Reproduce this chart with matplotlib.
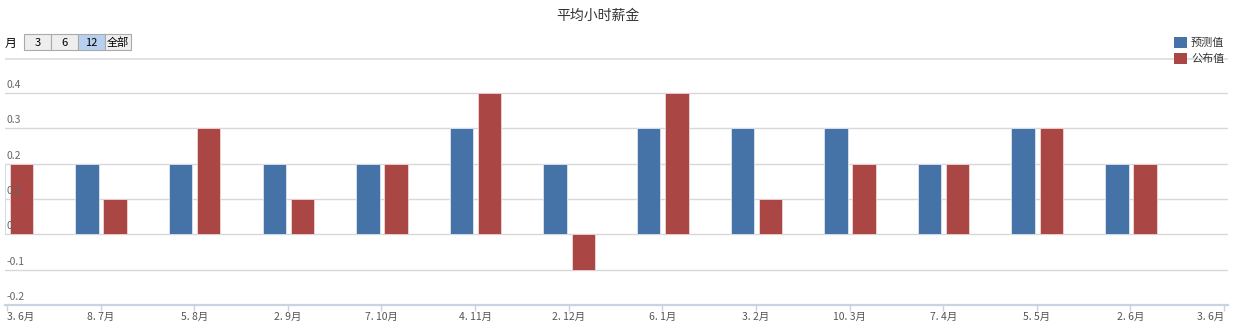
import matplotlib
matplotlib.use("Agg")
import matplotlib.pyplot as plt
from matplotlib.patches import Rectangle
import numpy as np

plt.rcParams['font.family'] = ['Noto Sans CJK SC', 'DejaVu Sans']

# data
dates = ["3. 6月", "8. 7月", "5. 8月", "2. 9月", "7. 10月", "4. 11月", "2. 12月",
         "6. 1月", "3. 2月", "10. 3月", "7. 4月", "5. 5月", "2. 6月", "3. 6月"]
forecast = [0.2, 0.2, 0.2, 0.2, 0.2, 0.3, 0.2, 0.3, 0.3, 0.3, 0.2, 0.3, 0.2]
actual = [0.2, 0.1, 0.3, 0.1, 0.2, 0.4, -0.1, 0.4, 0.1, 0.2, 0.2, 0.3, 0.2]
yticks = [-0.2, -0.1, 0, 0.1, 0.2, 0.3, 0.4, 0.5]
ylabels = ["-0.2", "-0.1", "0", "0.1", "0.2", "0.3", "0.4", ""]

blue = "#4572A7"
red = "#AA4643"
W, H = 1239, 328

fig = plt.figure(figsize=(W / 100, H / 100), dpi=100)
# plot area in pixels: x 5..1228, y 57.5..305
ax = fig.add_axes([5 / W, (H - 305) / H, 1223 / W, 247.5 / H])

px = 1217 / 13.0  # pixels per category
ax.set_xlim(-2 / px, 13 + 4 / px)
ax.set_ylim(-0.2, 0.5)

x = np.arange(len(forecast))
ax.bar(x - 0.145, forecast, width=0.25, color=blue, edgecolor="#dfe6f0", linewidth=0.6, zorder=3)
ax.bar(x + 0.155, actual, width=0.25, color=red, edgecolor="#eed8d8", linewidth=0.6, zorder=3)

for s in ax.spines.values():
    s.set_visible(False)
ax.set_yticks([])
for yv, lab in zip(yticks, ylabels):
    if yv == -0.2:
        continue
    ax.axhline(yv, color="#d8d8d8", linewidth=1.0, zorder=1)
for yv, lab in zip(yticks, ylabels):
    if lab:
        ax.text(2 / 1223, yv + 0.008, lab, transform=ax.get_yaxis_transform(),
                ha="left", va="bottom", fontsize=7.5, color="#666666", zorder=5)
ax.axhline(0.5, color="#e0e0e0", linewidth=2.0, zorder=1)
ax.axhline(-0.2, color="#c8d4e2", linewidth=1.6, zorder=4, clip_on=False)

ax.set_xticks(np.arange(len(dates)))
ax.set_xticklabels(dates, fontsize=7.5, color="#555555")
ax.tick_params(axis="x", length=4, width=1, color="#c8d4e2", pad=1)
tl = ax.get_xticklabels()
tl[0].set_ha("left")
tl[-1].set_ha("right")

fig.text(598 / W, 1 - 16 / H, "平均小时薪金", ha="center", va="center", fontsize=10, color="#333333")

# range selector
fig.text(5 / W, 1 - 43 / H, "月", ha="left", va="center", fontsize=8.5, color="#000000")
btns = [("3", 24, 51), ("6", 51, 78), ("12", 78, 105), ("全部", 105, 131)]
for lab, x0, x1 in btns:
    fc = "#b8d0f0" if lab == "12" else "#eeeeee"
    fig.patches.append(Rectangle((x0 / W, 1 - 50 / H), (x1 - x0) / W, 16 / H,
                                 transform=fig.transFigure, facecolor=fc,
                                 edgecolor="#aaaaaa", linewidth=0.8))
    fig.text((x0 + x1) / 2 / W, 1 - 42.5 / H, lab, ha="center", va="center",
             fontsize=8, color="#000000")

# legend
for i, (lab, c) in enumerate([("预测值", blue), ("公布值", red)]):
    yc = 42.5 + 16 * i
    fig.patches.append(Rectangle((1174 / W, 1 - (yc + 5.5) / H), 13 / W, 11 / H,
                                 transform=fig.transFigure, facecolor=c, edgecolor="none"))
    fig.text(1191 / W, 1 - yc / H, lab, ha="left", va="center", fontsize=8, color="#333333")

fig.savefig("out.png", dpi=100)
